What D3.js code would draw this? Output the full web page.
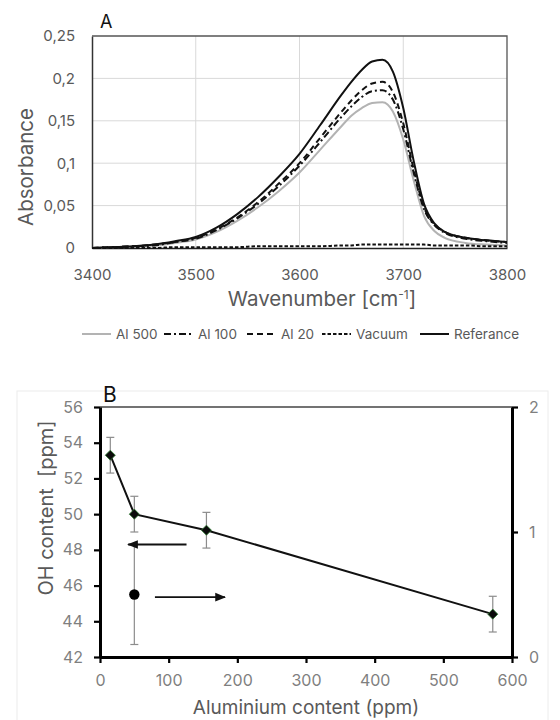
<!DOCTYPE html>
<html><head><meta charset="utf-8">
<script src="https://cdn.jsdelivr.net/npm/d3@7"></script>
<style>
html,body{margin:0;padding:0;background:#fff;}
svg text{font-family:Inter,"Open Sans",Arial,sans-serif;}
</style></head>
<body>
<svg id="chart" width="560" height="720"></svg>
<script>
// ---------- Panel A data ----------
const wavenumbers = [3400,3420,3440,3460,3480,3500,3520,3540,3560,3580,3600,3620,3640,3650,3660,3670,3680,3690,3700,3710,3720,3730,3740,3760,3780,3800];
const al500     = [0,0.001,0.002,0.003,0.006,0.010,0.019,0.032,0.048,0.067,0.089,0.116,0.143,0.156,0.165,0.171,0.172,0.161,0.128,0.080,0.038,0.020,0.012,0.006,0.004,0.003];
const al100     = [0,0.001,0.002,0.003,0.007,0.011,0.021,0.035,0.052,0.073,0.097,0.125,0.154,0.167,0.178,0.185,0.186,0.175,0.140,0.089,0.046,0.027,0.018,0.011,0.008,0.006];
const al20      = [0,0.001,0.002,0.004,0.007,0.012,0.022,0.036,0.054,0.076,0.100,0.130,0.160,0.174,0.186,0.194,0.196,0.184,0.147,0.093,0.048,0.028,0.019,0.012,0.009,0.007];
const vacuum    = [0,0,0,0,0.001,0.001,0.001,0.001,0.002,0.002,0.002,0.002,0.003,0.003,0.004,0.004,0.004,0.004,0.004,0.004,0.004,0.003,0.003,0.003,0.002,0.002];
const reference = [0,0.001,0.002,0.004,0.008,0.013,0.024,0.040,0.060,0.084,0.111,0.145,0.180,0.196,0.210,0.220,0.222,0.208,0.165,0.103,0.052,0.029,0.019,0.012,0.009,0.007];
const seriesNames = ["Al 500","Al 100","Al 20","Vacuum","Referance"];
const xTicksA = [3400,3500,3600,3700,3800];
const yTicksA = [0,0.05,0.1,0.15,0.2,0.25];
const yTickLabelsA = ["0","0,05","0,1","0,15","0,2","0,25"];

// ---------- Panel B data ----------
const aluminium = [15, 50, 155, 572];
const ohContent = [53.3, 50.0, 49.1, 44.4];
const ohError   = [1.0, 1.0, 1.0, 1.0];
const secondX   = [50];
const secondVal = [0.5];
const secondErr = [0.4];
const arrowsB   = [ {from:126, to:41, y:48.3}, {from:80, to:182, y:45.35} ];
const xTicksB = [0,100,200,300,400,500,600];
const yTicksB = [42,44,46,48,50,52,54,56];
const y2TicksB = [0,1,2];

const svg = d3.select("#chart");
const defs = svg.append("defs");
defs.append("marker").attr("id","arrowhead").attr("viewBox","0 0 10 10").attr("refX",9).attr("refY",5)
  .attr("markerWidth",6).attr("markerHeight",6).attr("orient","auto")
  .append("path").attr("d","M0,1 L10,5 L0,9 Z").attr("fill","#111");

// ================= Panel A =================
const A = {l:92, r:507, t:36, b:248};
const xA = d3.scaleLinear().domain([3400,3800]).range([A.l,A.r]);
const yA = d3.scaleLinear().domain([0,0.25]).range([A.b,A.t]);
const gA = svg.append("g");

gA.append("g").selectAll("line").data(yTicksA.slice(1,-1)).join("line")
  .attr("x1",A.l).attr("x2",A.r).attr("y1",d=>yA(d)).attr("y2",d=>yA(d))
  .attr("stroke","#d9d9d9").attr("stroke-width",1);
gA.append("g").selectAll("line").data(xTicksA.slice(1,-1)).join("line")
  .attr("y1",A.t).attr("y2",A.b).attr("x1",d=>xA(d)).attr("x2",d=>xA(d))
  .attr("stroke","#d9d9d9").attr("stroke-width",1);

const axAy = gA.append("g").attr("transform",`translate(${A.l},0)`)
  .call(d3.axisLeft(yA).tickValues(yTicksA).tickFormat((d,i)=>yTickLabelsA[i]).tickSize(0).tickPadding(17));
axAy.select(".domain").attr("stroke","#333").attr("stroke-width",1.5);
axAy.selectAll("text").attr("font-size",15).attr("fill","#595959");
const axAx = gA.append("g").attr("transform",`translate(0,${A.b})`)
  .call(d3.axisBottom(xA).tickValues(xTicksA).tickFormat(d3.format("d")).tickSize(0).tickPadding(21));
axAx.select(".domain").attr("stroke","#222").attr("stroke-width",1.5);
axAx.selectAll("text").attr("font-size",15).attr("fill","#595959");
gA.append("path").attr("d",`M${A.l},${A.t}H${A.r}V${A.b}`).attr("fill","none").attr("stroke","#555").attr("stroke-width",1.3);

const styles = {
  "Al 500":   {data:al500, color:"#b3b3b3", dash:null, w:2},
  "Al 100":   {data:al100, color:"#111", dash:"7,3,2,3", w:2},
  "Al 20":    {data:al20, color:"#111", dash:"6,4", w:2},
  "Vacuum":   {data:vacuum, color:"#111", dash:"3.5,2", w:2},
  "Referance":{data:reference, color:"#111", dash:null, w:2}
};
const lineA = d3.line().x((d,i)=>xA(wavenumbers[i])).y(d=>yA(d)).curve(d3.curveMonotoneX);
seriesNames.forEach(n=>{
  const s = styles[n];
  gA.append("path").datum(s.data).attr("d",lineA).attr("fill","none")
    .attr("stroke",s.color).attr("stroke-width",s.w).attr("stroke-dasharray",s.dash);
});

gA.append("text").attr("x",100).attr("y",28).attr("font-size",18).attr("fill","#111").text("A");
gA.append("text").attr("transform","translate(33,167) rotate(-90)").attr("text-anchor","middle")
  .attr("font-size",20.5).attr("fill","#595959").text("Absorbance");
const wl = gA.append("text").attr("x",322).attr("y",306).attr("text-anchor","middle").attr("font-size",20.5).attr("fill","#595959");
wl.append("tspan").text("Wavenumber [cm");
wl.append("tspan").attr("dy",-7).attr("font-size",12).text("-1");
wl.append("tspan").attr("dy",7).text("]");

const legendX = [82,164,247,322,420];
const leg = gA.append("g");
seriesNames.forEach((n,i)=>{
  const s = styles[n];
  const x0 = legendX[i];
  leg.append("line").attr("x1",x0).attr("x2",x0+29).attr("y1",334).attr("y2",334)
    .attr("stroke",s.color).attr("stroke-width",s.w).attr("stroke-dasharray",s.dash);
  leg.append("text").attr("x",x0+34).attr("y",339).attr("font-size",13.5).attr("fill","#595959").text(n);
});

// ================= Panel B =================
const B = {l:100, r:512, t:407, b:657};
svg.append("rect").attr("x",17).attr("y",391).attr("width",531).attr("height",340)
  .attr("fill","#fff").attr("stroke","#ececec").attr("stroke-width",1);
const xB = d3.scaleLinear().domain([0,600]).range([B.l,B.r]);
const yB = d3.scaleLinear().domain([42,56]).range([B.b,B.t]);
const y2B = d3.scaleLinear().domain([0,2]).range([B.b,B.t]);
const gB = svg.append("g");

gB.append("line").attr("x1",B.l).attr("x2",B.r).attr("y1",B.t).attr("y2",B.t).attr("stroke","#444").attr("stroke-width",1.5);

const axBy = gB.append("g").attr("transform",`translate(${B.l},0)`)
  .call(d3.axisLeft(yB).tickValues(yTicksB).tickSizeInner(6).tickSizeOuter(0).tickPadding(11));
const axBx = gB.append("g").attr("transform",`translate(0,${B.b})`)
  .call(d3.axisBottom(xB).tickValues(xTicksB).tickSizeInner(6).tickSizeOuter(0).tickPadding(12));
const axBy2 = gB.append("g").attr("transform",`translate(${B.r},0)`)
  .call(d3.axisRight(y2B).tickValues(y2TicksB).tickFormat(d3.format("d")).tickSizeInner(6).tickSizeOuter(0).tickPadding(11));
[axBy,axBx,axBy2].forEach(a=>{
  a.select(".domain").attr("stroke","#000").attr("stroke-width",3);
  a.selectAll(".tick line").attr("stroke","#000").attr("stroke-width",2.2);
  a.selectAll("text").attr("font-size",16).attr("fill","#7f7f7f");
});

const eb = gB.append("g").attr("stroke","#8c8c8c").attr("stroke-width",1.2);
aluminium.forEach((x,i)=>{
  const cx = xB(x), y1 = yB(ohContent[i]-ohError[i]), y2 = yB(ohContent[i]+ohError[i]);
  eb.append("line").attr("x1",cx).attr("x2",cx).attr("y1",y1).attr("y2",y2);
  eb.append("line").attr("x1",cx-4).attr("x2",cx+4).attr("y1",y1).attr("y2",y1);
  eb.append("line").attr("x1",cx-4).attr("x2",cx+4).attr("y1",y2).attr("y2",y2);
});
secondX.forEach((x,i)=>{
  const cx = xB(x), y1 = y2B(secondVal[i]-secondErr[i]), y2 = y2B(secondVal[i]+secondErr[i]);
  eb.append("line").attr("x1",cx).attr("x2",cx).attr("y1",y1).attr("y2",y2);
  eb.append("line").attr("x1",cx-4).attr("x2",cx+4).attr("y1",y1).attr("y2",y1);
});

const lineB = d3.line().x((d,i)=>xB(aluminium[i])).y(d=>yB(d));
gB.append("path").datum(ohContent).attr("d",lineB).attr("fill","none").attr("stroke","#111").attr("stroke-width",2);

gB.append("g").selectAll("path").data(ohContent).join("path")
  .attr("d",d3.symbol().type(d3.symbolDiamond2).size(65))
  .attr("transform",(d,i)=>`translate(${xB(aluminium[i])},${yB(d)})`)
  .attr("fill","#0b0b0b").attr("stroke","#2e7d32").attr("stroke-width",0.8);

gB.append("g").selectAll("circle").data(secondVal).join("circle")
  .attr("cx",(d,i)=>xB(secondX[i])).attr("cy",d=>y2B(d)).attr("r",5.2).attr("fill","#000");

gB.append("g").selectAll("line").data(arrowsB).join("line")
  .attr("x1",d=>xB(d.from)).attr("x2",d=>xB(d.to)).attr("y1",d=>yB(d.y)).attr("y2",d=>yB(d.y))
  .attr("stroke","#111").attr("stroke-width",1.8).attr("marker-end","url(#arrowhead)");

gB.append("text").attr("x",103).attr("y",402).attr("font-size",21).attr("fill","#111").text("B");
gB.append("text").attr("transform","translate(53,508) rotate(-90)").attr("text-anchor","middle")
  .attr("font-size",20).attr("fill","#595959").text("OH content\u00a0 [ppm]");
gB.append("text").attr("x",306).attr("y",714).attr("text-anchor","middle")
  .attr("font-size",19).attr("fill","#595959").text("Aluminium content (ppm)");
</script>
</body></html>
